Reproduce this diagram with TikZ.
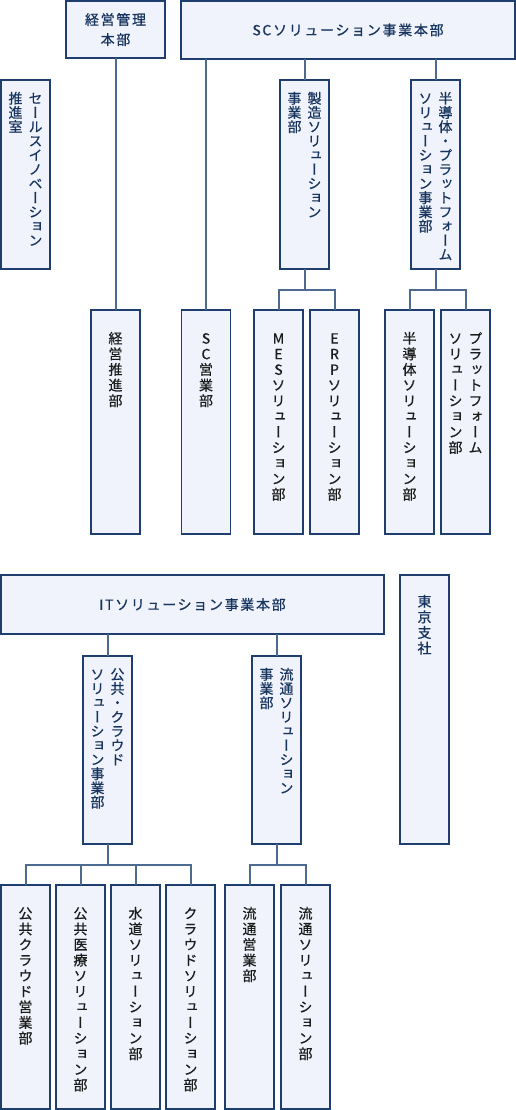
\documentclass[tikz,border=0pt]{standalone}
\usepackage{fontspec}
\setmainfont[FakeBold=0.6]{Noto Sans CJK JP}
\newfontfamily\tatefont[RawFeature=+vert, FakeBold=0.6]{Noto Sans CJK JP}
\usetikzlibrary{positioning}
\definecolor{navyline}{HTML}{1E3F6E}
\definecolor{slatelink}{HTML}{4D6A90}
\definecolor{palefill}{HTML}{F0F3FB}
\definecolor{navytext}{HTML}{17345F}
\definecolor{inktext}{HTML}{1C1C1C}

% vertical (tategaki) column: one character per line
\newlength\tatepitch
\makeatletter
\newcommand\tate[1]{\vtop{\baselineskip=\tatepitch\lineskiplimit=-20pt\tate@a#1\tate@end}}
\def\tate@end{\tate@end}
\def\tate@a#1{\ifx#1\tate@end\else\hbox to 1em{\hss#1\hss}\expandafter\tate@a\fi}
\makeatother

\begin{document}
\begin{tikzpicture}[%
    x = 1pt,
    y = -1pt,
    node distance = 6pt,
    box/.style = {%
      draw = navyline,
      fill = palefill,
      line width = 1.5pt,
      inner sep = 0pt,
      outer sep = 0pt,
      anchor = north west },
    hhead/.style = {%
      box,
      text = navytext,
      align = center,
      font = \fontsize{14}{20}\selectfont\addfontfeature{LetterSpace=12} },
    vhead/.style = {%
      box,
      text = navytext,
      minimum width = 49pt,
      font = \tatefont\fontsize{14}{14}\selectfont\setlength\tatepitch{14.2pt},
      text height = 23.6pt,
      text depth = 165.4pt },
    vunit/.style = {%
      box,
      text = inktext,
      minimum width = 49pt,
      font = \tatefont\fontsize{14}{14}\selectfont\setlength\tatepitch{15.6pt},
      text height = 33.6pt,
      text depth = 190.4pt },
    link/.style = {%
      draw = slatelink,
      line width = 2pt }
  ]
\useasboundingbox (0,0) rectangle (516,1110);

% upper group
\node[hhead, minimum width=99pt, minimum height=57pt] (kanri) at (66,1) {経営管理\\本部};
\node[hhead, minimum width=334pt, minimum height=58pt] (sc) at (181,1) {SCソリューション事業本部};
\node[vhead] (sales) at (1,80) {\tate{推進室}\hskip6pt\tate{セールスイノベーション}};
\node[vhead] (seizo) at (280,80) {\tate{事業部}\hskip6pt\tate{製造ソリューション}};
\node[vhead] (handotai) at (411,80) {\tate{ソリューション事業部}\hskip6pt\tate{半導体・プラットフォーム}};

\node[vunit] (keiei) at (91,310) {\tate{経営推進部}};
\node[vunit] (sceigyo) at (181.5,310) {\tate{SC営業部}};
\node[vunit] (mes) at (254,310) {\tate{MESソリューション部}};
\node[vunit, right=7pt of mes] (erp) {\tate{ERPソリューション部}};
\node[vunit] (semi) at (385,310) {\tate{半導体ソリューション部}};
\node[vunit, right=7pt of semi] (plat) {\tate{ソリューション部}\hskip6pt\tate{プラットフォーム}};

% lower group
\node[hhead, minimum width=383pt, minimum height=59pt] (it) at (1,575) {ITソリューション事業本部};
\node[vunit, text=navytext, text height=31.6pt, text depth=237.4pt] (tokyo) at (400,575) {\tate{東京支社}};
\node[vhead, text depth=164.4pt] (kokyo) at (83,656) {\tate{ソリューション事業部}\hskip6pt\tate{公共・クラウド}};
\node[vhead, text depth=164.4pt] (ryutsu) at (252,656) {\tate{事業部}\hskip6pt\tate{流通ソリューション}};

\node[vunit] (kcloud) at (1,885) {\tate{公共クラウド営業部}};
\node[vunit, right=of kcloud] (iryo) {\tate{公共医療ソリューション部}};
\node[vunit, right=of iryo] (suido) {\tate{水道ソリューション部}};
\node[vunit, right=of suido] (cloud) {\tate{クラウドソリューション部}};
\node[vunit] (reigyo) at (225,885) {\tate{流通営業部}};
\node[vunit, right=7pt of reigyo] (rsol) {\tate{流通ソリューション部}};

% connectors
\draw[link] (kanri.south) -- (keiei.north);
\draw[link] (sceigyo.north) -- (sceigyo.north |- sc.south);
\draw[link] (seizo.north) -- (seizo.north |- sc.south);
\draw[link] (handotai.north) -- (handotai.north |- sc.south);

\draw[link] (seizo.south) -- ++(0,21);
\draw[link] (mes.north) -- ++(0,-20) -| (erp.north);
\draw[link] (handotai.south) -- ++(0,21);
\draw[link] (semi.north) -- ++(0,-20) -| (plat.north);

\draw[link] (kokyo.north) -- (kokyo.north |- it.south);
\draw[link] (ryutsu.north) -- (ryutsu.north |- it.south);

\draw[link] (kokyo.south) -- ++(0,21);
\draw[link] (kcloud.north) -- ++(0,-20) -| (cloud.north);
\draw[link] (iryo.north) -- ++(0,-20);
\draw[link] (suido.north) -- ++(0,-20);
\draw[link] (ryutsu.south) -- ++(0,21);
\draw[link] (reigyo.north) -- ++(0,-20) -| (rsol.north);

\end{tikzpicture}
\end{document}
